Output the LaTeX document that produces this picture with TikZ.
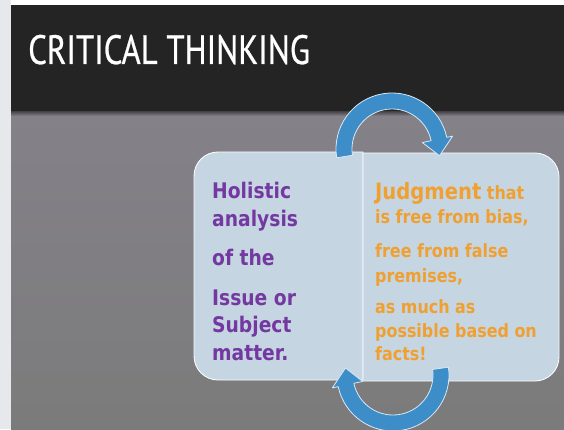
\documentclass[tikz,border=0pt]{standalone}
\usepackage{fontspec}
\newfontfamily\titlefont[FakeStretch=0.80,FakeBold=0.6]{PT Sans}
\newfontfamily\bodyfont[FakeStretch=0.87]{DejaVu Sans}
\definecolor{boxfill}{HTML}{C6D5E2}
\definecolor{purp}{HTML}{7339A0}
\definecolor{orng}{HTML}{EFA030}
\definecolor{arrowblue}{HTML}{3D8DC8}
\definecolor{band}{HTML}{242424}
\definecolor{graytop}{HTML}{848189}
\definecolor{graybot}{HTML}{7B7B7B}
\definecolor{strip}{HTML}{E6E8EC}
\tikzset{
  boxsty/.style={fill=boxfill, draw=white!90!boxfill, line width=0.9pt},
  arrowsty/.style={fill=arrowblue, draw=white!80!arrowblue, line width=0.8pt, line join=round},
  lefttext/.style={anchor=base west, inner sep=0pt, text=purp, font=\bodyfont\bfseries\fontsize{21.5}{24}\selectfont},
  righttext/.style={anchor=base west, inner sep=0pt, text=orng, font=\bodyfont\bfseries\fontsize{18.3}{22}\selectfont},
}
\begin{document}
\begin{tikzpicture}[x=1pt,y=1pt]
\useasboundingbox (0,0) rectangle (564,429);
% background
\fill[strip] (0,0) rectangle (11,429);
\fill[white] (11,424) rectangle (564,429);
\shade[top color=graytop, bottom color=graybot] (11,0) rectangle (564,318);
\shade[top color=band!70!graytop, bottom color=graytop] (11,313) rectangle (564,318);
\fill[band] (11,318) rectangle (564,424);
% title
\node[anchor=base west, inner sep=0pt, text=white, font=\titlefont\fontsize{41}{45}\selectfont] (title) at (28,365) {CRITICAL THINKING};
% boxes
\path[boxsty] (363,49) -- (218,49) arc[start angle=270, end angle=180, radius=24]
  -- (194,253) arc[start angle=180, end angle=90, radius=24] -- (363,277) -- cycle;
\path[boxsty] (363,48) -- (535,48) arc[start angle=-90, end angle=0, radius=24]
  -- (559,252) arc[start angle=0, end angle=90, radius=24] -- (363,276) -- cycle;
% top arrow
\begin{scope}[shift={(392,280)}]
\path[arrowsty] (189:40) -- (189:56) arc[start angle=189, end angle=12, radius=56]
  -- (12:62) -- (-8:48) -- (12:31) -- (12:40) arc[start angle=12, end angle=189, radius=40] -- cycle;
\end{scope}
% bottom arrow
\begin{scope}[shift={(393,54)}]
\path[arrowsty] (8:40) -- (8:56) arc[start angle=8, end angle=-168, radius=56]
  -- (-168:62) -- (-188.3:48) -- (-168:31) -- (-168:40) arc[start angle=-168, end angle=8, radius=40] -- cycle;
\end{scope}
% left text
\node[lefttext] (l1) at (212,231) {Holistic};
\node[lefttext] (l2) at (212,203) {analysis};
\node[lefttext] (l3) at (212,164) {of the};
\node[lefttext] (l4) at (212,124) {Issue or};
\node[lefttext] (l5) at (212,97) {Subject};
\node[lefttext] (l6) at (212,69) {matter.};
% right text
\node[righttext] (r1) at (375,230) {{\fontsize{22.5}{24}\selectfont Judgment} that};
\node[righttext] (r2) at (375,206) {is free from bias,};
\node[righttext] (r3) at (375,172) {free from false};
\node[righttext] (r4) at (375,147) {premises,};
\node[righttext] (r5) at (375,116) {as much as};
\node[righttext] (r6) at (375,92) {possible based on};
\node[righttext] (r7) at (375,69) {facts!};
\end{tikzpicture}
\end{document}
